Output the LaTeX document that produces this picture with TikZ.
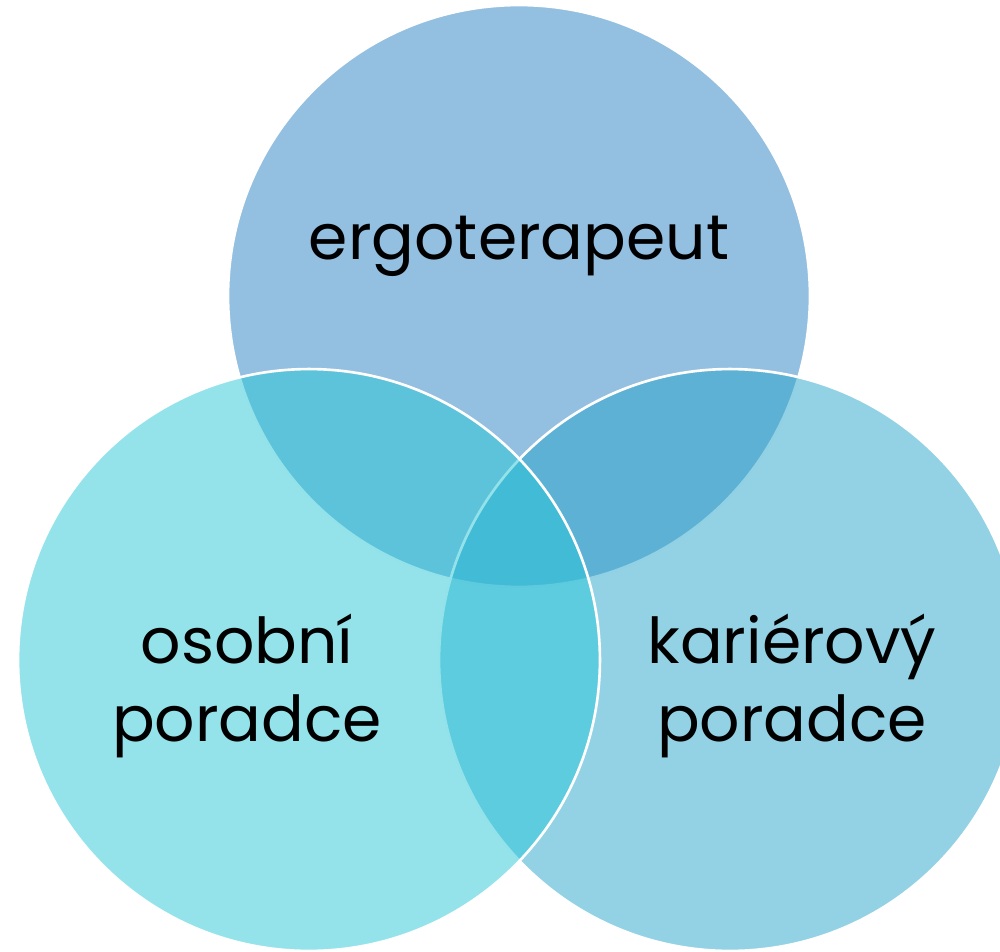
\documentclass[tikz,border=0pt]{standalone}
\usepackage{fontspec}
\setmainfont{Poppins}
\definecolor{ctop}{RGB}{39,127,193}
\definecolor{cright}{RGB}{39,165,203}
\definecolor{cleft}{RGB}{41,199,215}
\tikzset{
  venn/.style={circle, inner sep=0pt, minimum size=11.64cm, fill opacity=0.5, draw=white, draw opacity=1, line width=1.5pt},
  lbl/.style={anchor=base, align=center, text=black, font=\fontsize{36}{44.2}\selectfont}
}
\begin{document}
\begin{tikzpicture}[x=0.02cm,y=0.02cm]
\useasboundingbox (0,0) rectangle (1000,951);
\node[venn, fill=ctop] (top) at (519,655) {};
\node[venn, fill=cright] (right) at (730,291) {};
\node[venn, fill=cleft] (left) at (309,291) {};
\node[lbl] (tl) at (519,691) {ergoterapeut};
\node[lbl] (ll) at (247,210) {osobní\\poradce};
\node[lbl] (rl) at (792,210) {kariérový\\poradce};
\end{tikzpicture}
\end{document}
